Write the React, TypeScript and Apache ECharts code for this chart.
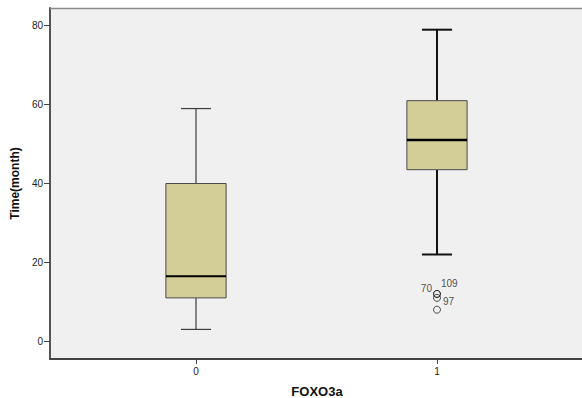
import React, { useEffect, useRef } from "react";
import * as echarts from "echarts";

const categories = ["0", "1"];
const whiskerLow = [3, 22];
const q1 = [11, 43.5];
const median = [16.5, 51];
const q3 = [40, 61];
const whiskerHigh = [59, 79];

const outlierCategory = [1, 1, 1, 1];
const outlierValues = [12, 12, 11, 8];
const outlierLabels = ["70", "109", "97", ""];

const yTicks = [0, 20, 40, 60, 80];
const xTicks = [0, 1];

const labelStyles = [
  { position: "left", distance: 1, offset: [0, -5] },
  { position: "right", distance: 0, offset: [0, -10] },
  { position: "right", distance: 2, offset: [0, 4] },
  { position: "right", distance: 2, offset: [0, 0] },
];

const whiskerColor = ["#3c3c3c", "#111111"];
const whiskerWidth = [1.2, 2];
const medianWidth = [2, 2.5];

export default function App() {
  const ref = useRef<HTMLDivElement>(null);
  useEffect(() => {
    if (!ref.current) return;
    const chart = echarts.init(ref.current, null, { renderer: "svg" });
    const boxData = categories.map((_, i) => [i, whiskerLow[i], q1[i], median[i], q3[i], whiskerHigh[i]]);
    const outlierData = outlierValues.map((v, i) => ({
      value: [outlierCategory[i], v],
      label: {
        show: outlierLabels[i] !== "",
        formatter: outlierLabels[i],
        position: labelStyles[i].position,
        distance: labelStyles[i].distance,
        offset: labelStyles[i].offset,
      },
    }));
    chart.setOption({
      animation: false,
      textStyle: { fontFamily: "Liberation Sans, Arial, sans-serif" },
      grid: {
        left: 50,
        top: 8,
        right: -2,
        bottom: 39,
        containLabel: false,
        outerBoundsMode: "none",
        show: true,
        backgroundColor: "#f0f0f0",
        borderWidth: 0,
      },
      graphic: [
        {
          type: "line",
          shape: { x1: 50, y1: 8.5, x2: 582, y2: 8.5 },
          style: { stroke: "#8a8a8a", lineWidth: 1.5 },
          z: 10,
        },
      ],
      xAxis: {
        type: "value",
        min: -0.6058,
        max: 1.61,
        name: "FOXO3a",
        nameLocation: "middle",
        nameGap: 26,
        nameTextStyle: { fontWeight: "bold", fontSize: 13, color: "#111" },
        axisLine: { show: true, onZero: false, lineStyle: { color: "#444", width: 2 } },
        axisTick: { show: true, customValues: xTicks, length: 5, lineStyle: { color: "#444" } },
        axisLabel: {
          customValues: xTicks,
          formatter: (v: number) => categories[Math.round(v)],
          fontSize: 10,
          color: "#222",
          margin: 7,
        },
        splitLine: { show: false },
      },
      yAxis: {
        type: "value",
        min: -4.5,
        max: 84.5,
        name: "Time(month)",
        nameLocation: "middle",
        nameGap: 29,
        nameRotate: 90,
        nameTextStyle: { fontWeight: "bold", fontSize: 12, color: "#111" },
        axisLine: { show: true, onZero: false, lineStyle: { color: "#555", width: 2 } },
        axisTick: { show: true, customValues: yTicks, length: 6, lineStyle: { color: "#444" } },
        axisLabel: { customValues: yTicks, fontSize: 10, color: "#222", margin: 7 },
        splitLine: { show: false },
      },
      series: [
        {
          type: "custom",
          data: boxData,
          encode: { x: 0, y: [1, 2, 3, 4, 5] },
          renderItem: (params: any, api: any) => {
            const i = params.dataIndex;
            const x = api.value(0);
            const pLo = api.coord([x, api.value(1)]);
            const pQ1 = api.coord([x, api.value(2)]);
            const pMed = api.coord([x, api.value(3)]);
            const pQ3 = api.coord([x, api.value(4)]);
            const pHi = api.coord([x, api.value(5)]);
            const halfW = api.size([1, 0])[0] * 0.125;
            const capHalf = halfW / 2;
            const cx = pLo[0];
            const wStyle = { stroke: whiskerColor[i], lineWidth: whiskerWidth[i] };
            return {
              type: "group",
              children: [
                { type: "line", shape: { x1: cx, y1: pQ3[1], x2: cx, y2: pHi[1] }, style: wStyle },
                { type: "line", shape: { x1: cx, y1: pQ1[1], x2: cx, y2: pLo[1] }, style: wStyle },
                { type: "line", shape: { x1: cx - capHalf, y1: pHi[1], x2: cx + capHalf, y2: pHi[1] }, style: wStyle },
                { type: "line", shape: { x1: cx - capHalf, y1: pLo[1], x2: cx + capHalf, y2: pLo[1] }, style: wStyle },
                {
                  type: "rect",
                  shape: { x: cx - halfW, y: pQ3[1], width: halfW * 2, height: pQ1[1] - pQ3[1] },
                  style: { fill: "#d3ce98", stroke: "#4a4a4a", lineWidth: 1 },
                },
                {
                  type: "line",
                  shape: { x1: cx - halfW, y1: pMed[1], x2: cx + halfW, y2: pMed[1] },
                  style: { stroke: "#000", lineWidth: medianWidth[i] },
                },
              ],
            };
          },
        },
        {
          type: "scatter",
          data: outlierData,
          symbol: "circle",
          symbolSize: 7,
          itemStyle: { color: "transparent", borderColor: "#222", borderWidth: 1 },
          label: { fontSize: 10, color: "#222" },
        },
      ],
    });
    return () => chart.dispose();
  }, []);
  return (
    <div
      ref={ref}
      style={{ position: "fixed", left: 0, top: 0, width: 582, height: 398, background: "#fff" }}
    />
  );
}
